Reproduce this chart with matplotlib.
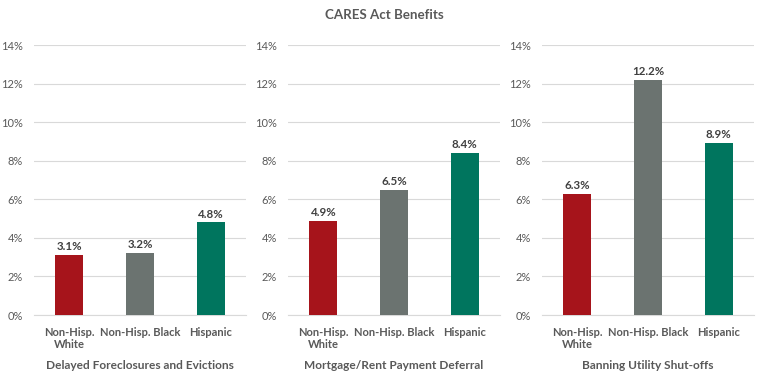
import matplotlib
matplotlib.use("Agg")
import matplotlib.pyplot as plt
from matplotlib.ticker import FuncFormatter

plt.rcParams['font.family'] = ['Lato', 'DejaVu Sans']

title = "CARES Act Benefits"
panels = ["Delayed Foreclosures and Evictions", "Mortgage/Rent Payment Deferral", "Banning Utility Shut-offs"]
categories = ["Non-Hisp.\nWhite", "Non-Hisp. Black", "Hispanic"]
values_delayed = [3.1, 3.2, 4.8]
values_mortgage = [4.9, 6.5, 8.4]
values_utility = [6.3, 12.2, 8.9]
yticks = [0, 2, 4, 6, 8, 10, 12, 14]
colors = ["#A6141B", "#6B7370", "#00755E"]
txt = "#595959"

fig = plt.figure(figsize=(7.68, 3.8), dpi=100)
lefts = [34/768, 288/768, 542/768]
w = 212/768
bottom = 1 - 315/380
h = (315-45)/380
for left, name, vals in zip(lefts, panels, [values_delayed, values_mortgage, values_utility]):
    ax = fig.add_axes([left, bottom, w, h])
    x = range(len(categories))
    ax.bar(x, vals, width=0.4, color=colors, zorder=3)
    for xi, v in zip(x, vals):
        ax.text(xi, v + 0.15, f"{v:.1f}%", ha='center', va='bottom', fontsize=8.3, fontweight='bold', color='#404040')
    ax.set_xlim(-0.5, 2.5)
    ax.set_ylim(0, 14)
    ax.set_yticks(yticks)
    ax.yaxis.set_major_formatter(FuncFormatter(lambda v, p: f"{int(v)}%"))
    ax.grid(axis='y', color='#D9D9D9', linewidth=0.8, zorder=0)
    for s in ['top', 'right', 'left']:
        ax.spines[s].set_visible(False)
    ax.spines['bottom'].set_color('#D9D9D9')
    ax.tick_params(axis='y', length=0, labelsize=8, labelcolor=txt, pad=8)
    ax.tick_params(axis='x', length=0, labelsize=8, labelcolor=txt, pad=9)
    ax.set_xticks(list(x))
    ax.set_xticklabels(categories, fontweight='bold', linespacing=1.1)
    ax.set_xlabel(name, fontsize=8.6, fontweight='bold', color=txt, labelpad=7)

fig.text(0.5, 1 - 15/380, title, ha='center', va='center', fontsize=9.6, fontweight='bold', color=txt)
fig.savefig("out.png", dpi=100, facecolor='white')
